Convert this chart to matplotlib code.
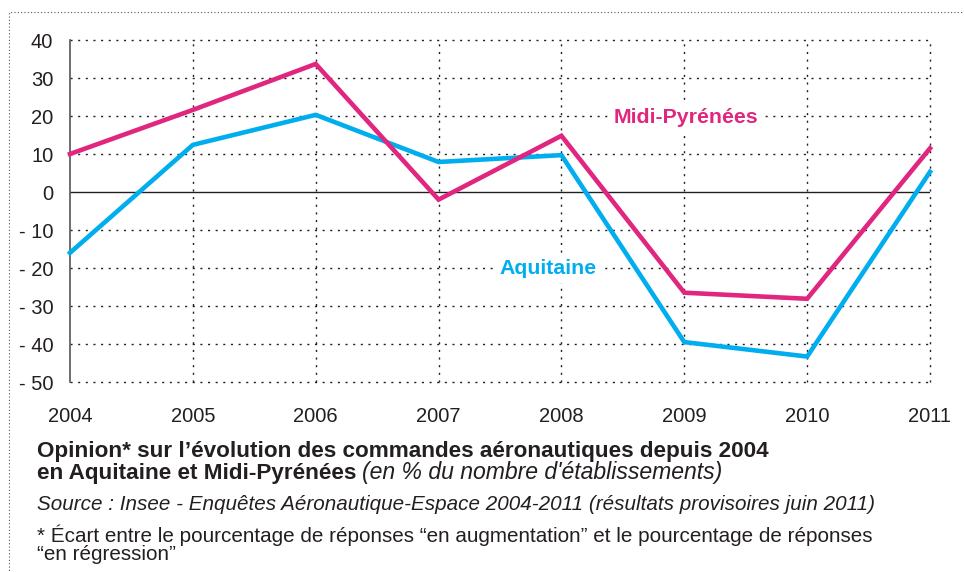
import matplotlib
matplotlib.use("Agg")
import matplotlib.pyplot as plt
from matplotlib.patches import Rectangle

years = [2004, 2005, 2006, 2007, 2008, 2009, 2010, 2011]
midi_pyrenees = [10, 21.6, 33.7, -2, 14.8, -26.5, -28.1, 11.5]
aquitaine = [-16, 12.4, 20.3, 7.9, 9.7, -39.5, -43.3, 5.3]
yticks = [40, 30, 20, 10, 0, -10, -20, -30, -40, -50]
ytick_labels = ["40", "30", "20", "10", "0", "- 10", "- 20", "- 30", "- 40", "- 50"]

MAGENTA = "#E0267F"
CYAN = "#00AEEF"
TXT = "#231F20"

plt.rcParams['font.family'] = ['Liberation Sans', 'DejaVu Sans']

fig = plt.figure(figsize=(9.64, 5.72), dpi=100)
W, H = 964, 572
ax = fig.add_axes([70 / W, 1 - 382 / H, (930 - 70) / W, (382 - 40) / H])

ax.set_xlim(2004, 2011)
ax.set_ylim(-50, 40)

for y in yticks:
    if y == 0:
        ax.axhline(0, color=TXT, lw=1.0, zorder=2)
    else:
        ax.axhline(y, color=TXT, lw=1.0, ls=(0, (1.5, 4)), zorder=1, clip_on=False)
for x in years[1:]:
    ax.axvline(x, color=TXT, lw=1.0, ls=(0, (1.5, 4)), zorder=1, clip_on=False)

ax.plot(years, aquitaine, color=CYAN, lw=3.3, zorder=3, solid_joinstyle='miter', clip_on=False)
ax.plot(years, midi_pyrenees, color=MAGENTA, lw=3.3, zorder=4, solid_joinstyle='miter', clip_on=False)

for s in ['top', 'right', 'bottom']:
    ax.spines[s].set_visible(False)
ax.spines['left'].set_color('#555555')
ax.spines['left'].set_linewidth(1.2)

ax.set_yticks(yticks)
ax.set_yticklabels(ytick_labels, fontsize=14.5, color=TXT)
ax.set_xticks(years)
ax.set_xticklabels([str(y) for y in years], fontsize=14.5, color=TXT)
ax.tick_params(axis='both', length=0)
ax.tick_params(axis='y', pad=12)
ax.tick_params(axis='x', pad=18)

ax.text(2009.01, 19.7, "Midi-Pyrénées", color=MAGENTA, fontsize=15.3, fontweight='bold',
        ha='center', va='center', zorder=5,
        bbox=dict(boxstyle='square,pad=0.25', fc='white', ec='none'))
ax.text(2007.89, -20.0, "Aquitaine", color=CYAN, fontsize=15.3, fontweight='bold',
        ha='center', va='center', zorder=5,
        bbox=dict(boxstyle='square,pad=0.25', fc='white', ec='none'))

# outer dotted frame
fig.patches.append(Rectangle((9 / W, -0.05), 1.2, 1 - 12 / H + 0.05, transform=fig.transFigure,
                             fill=False, ls=(0, (1, 2)), lw=0.8, ec='#555555'))

fam = ['Liberation Sans', 'DejaVu Sans']
fb = 16.2
fs = 14.9
fig.text(37 / W, 1 - 451 / H, "Opinion* sur l’évolution des commandes aéronautiques depuis 2004",
         fontsize=fb, fontweight='bold', family=fam, color=TXT, va='center')
t1 = fig.text(37 / W, 1 - 473 / H, "en Aquitaine et Midi-Pyrénées",
              fontsize=fb, fontweight='bold', family=fam, color=TXT, va='center')
fig.canvas.draw()
bb = t1.get_window_extent()
fig.text(bb.x1 / W + 6 / W, 1 - 473 / H, "(en % du nombre d'établissements)",
         fontsize=16.6, style='italic', family=fam, color=TXT, va='center')
fig.text(37 / W, 1 - 505 / H, "Source : Insee - Enquêtes Aéronautique-Espace 2004-2011 (résultats provisoires juin 2011)",
         fontsize=fs, style='italic', family=fam, color=TXT, va='center')
fig.text(37 / W, 1 - 535 / H, "* Écart entre le pourcentage de réponses “en augmentation” et le pourcentage de réponses",
         fontsize=fs, family=fam, color=TXT, va='center')
fig.text(37 / W, 1 - 555 / H, "“en régression”",
         fontsize=fs, family=fam, color=TXT, va='center')

fig.savefig("out.png", dpi=100)
